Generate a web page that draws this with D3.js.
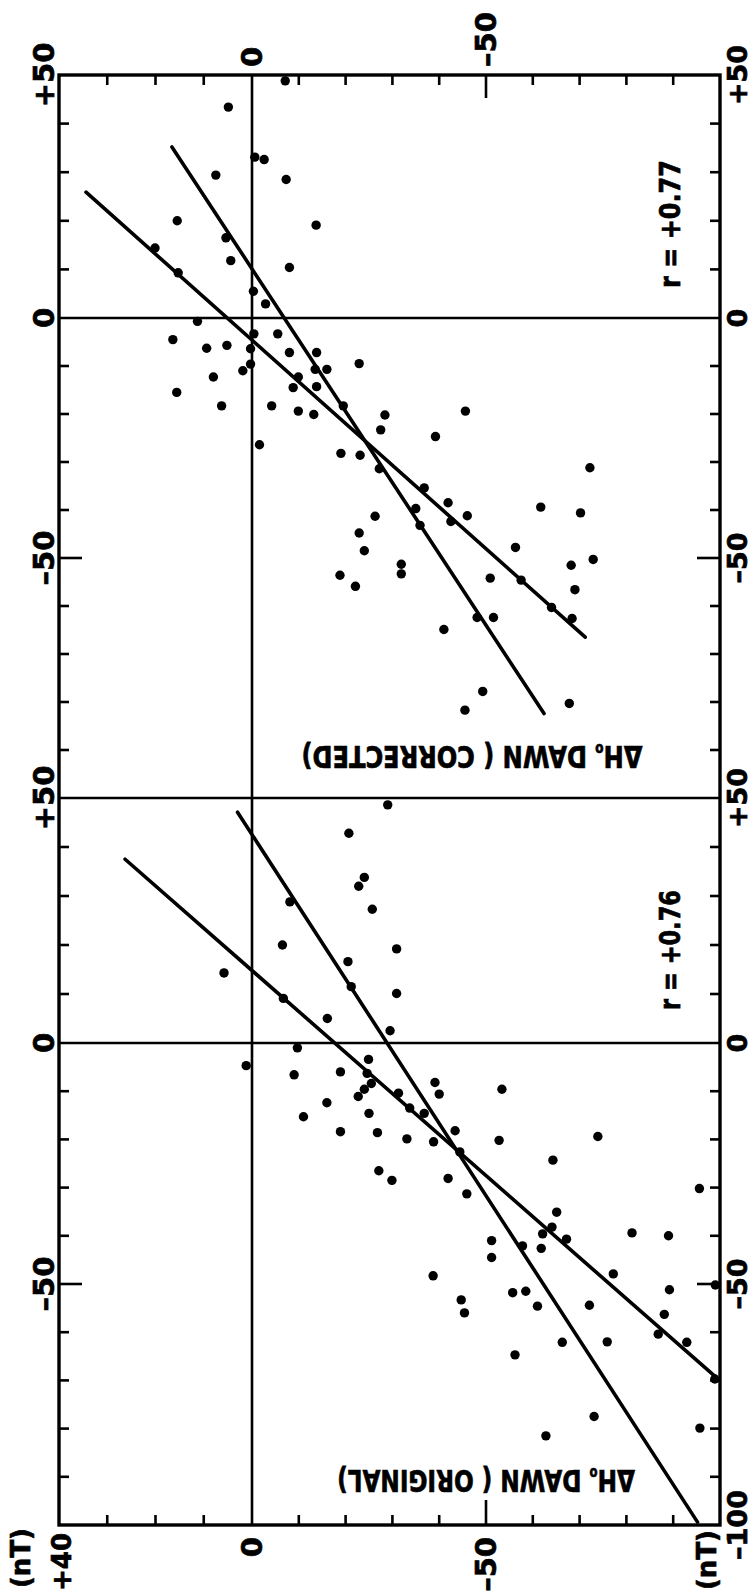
<!DOCTYPE html>
<html>
<head>
<meta charset="utf-8">
<script src="https://cdn.jsdelivr.net/npm/d3@7/dist/d3.min.js"></script>
<style>
  body { margin: 0; background: #fff; }
  text { font-family: "DejaVu Sans", sans-serif; font-weight: bold; fill: #000; stroke: #000; stroke-width: 0.7px; }
</style>
</head>
<body>
<div id="chart"></div>
<script>

// tick values (nT)
var dawnTicks = [30, 20, 10, -10, -20, -30, -40, -50, -60, -70, -80, -90];
var refTicks = [40, 30, 20, 10, -10, -20, -30, -40, -50, -60, -70, -80, -90];
var dawnLabels = [0, -50];
var refLabelsTop = [50, 0, -50];
var refLabelsBottom = [50, 0, -50, -100];

// corrected panel: dawn value (across) and reference value (down)
var corrDawn = [-7.1, 4.9, -0.6, -2.6, 7.5, -7.3, 15.5, -13.7, 5.4, 20.1, 4.4, -8.0, 15.3, -0.3, -2.9,
  11.3, 16.4, -0.4, -5.5, 9.4, 5.2, 0.3, -8.0, -13.8, 0.3, 1.9, -13.5, -16.0, -22.9, 8.0, -9.9, -8.8,
  -13.8, 15.6, 6.3, -4.2, -9.9, -13.2, -19.5, -28.4, -1.6, -27.5, -45.6, -39.2, -19.0, -23.1, -27.2,
  -72.2, -36.8, -41.9, -61.7, -70.2, -35.0, -46.0, -26.3, -42.5, -35.9, -22.9, -24.0, -56.3, -72.9,
  -68.2, -31.9, -31.9, -18.8, -22.1, -50.9, -57.5, -69.0, -64.0, -48.1, -51.6, -68.4, -41.0, -49.3,
  -67.8, -45.5];
var corrRef = [48.8, 43.4, 33.1, 32.6, 29.4, 28.5, 20.0, 19.1, 16.5, 14.4, 11.8, 10.4, 9.3, 5.5, 2.9,
  -0.7, -4.5, -3.3, -3.3, -6.3, -5.7, -6.4, -7.2, -7.2, -9.6, -11.0, -10.7, -10.7, -9.5, -12.3, -12.3,
  -14.5, -14.3, -15.5, -18.3, -18.3, -19.4, -20.1, -18.3, -20.2, -26.4, -23.3, -19.4, -24.7, -28.2,
  -28.6, -31.4, -31.2, -35.4, -38.5, -39.4, -40.6, -39.7, -41.2, -41.3, -42.4, -43.2, -44.8, -48.5,
  -47.8, -50.3, -51.5, -51.3, -53.3, -53.6, -55.9, -54.2, -54.6, -56.6, -60.3, -62.4, -62.4, -62.6,
  -64.9, -77.8, -80.3, -81.7];

// original panel
var origDawn = [-29.0, -20.7, -24.0, -22.8, -8.1, -25.7, -6.5, -30.9, -20.5, 5.8, -21.2, -30.9, -6.7,
  -16.1, -29.5, -9.7, 1.2, -24.9, -9.0, -18.9, -24.6, -25.5, -24.0, -22.7, -31.3, -39.1, -40.0, -53.4,
  -16.0, -33.7, -36.8, -11.0, -25.0, -18.9, -26.8, -43.4, -33.1, -38.8, -52.8, -73.9, -64.3, -44.4,
  -27.1, -29.9, -41.9, -45.9, -95.6, -65.1, -64.1, -62.1, -67.2, -81.2, -89.0, -51.2, -51.2, -57.8,
  -61.8, -38.7, -77.2, -99.0, -89.2, -55.7, -58.5, -44.7, -45.4, -61.0, -72.1, -88.1, -86.8, -92.9,
  -66.3, -75.9, -56.2, -98.9, -73.1, -62.8, -95.7];
var origRef = [48.6, 42.8, 33.8, 32.0, 28.8, 27.3, 20.0, 19.2, 16.6, 14.3, 11.5, 10.1, 9.1, 5.0, 2.5,
  -1.0, -4.7, -3.4, -6.6, -6.0, -6.3, -8.4, -9.6, -11.1, -10.4, -8.2, -10.6, -9.6, -12.4, -13.5, -14.6,
  -15.3, -14.6, -18.4, -18.6, -18.2, -19.9, -20.5, -20.2, -19.4, -24.3, -22.6, -26.5, -28.5, -28.1,
  -31.3, -30.2, -35.1, -38.2, -39.6, -40.7, -39.4, -40.0, -41.0, -44.5, -42.1, -42.6, -48.3, -47.9,
  -50.2, -51.2, -51.8, -51.5, -53.3, -56.0, -54.6, -54.4, -56.3, -60.4, -62.1, -62.1, -62.0, -64.7,
  -69.7, -77.5, -81.5, -79.9];

// regression lines: [dawn1, ref1, dawn2, ref2]
var corrFits = [[16.6, 35.2, -62.4, -82.4], [34.4, 25.9, -71.2, -66.5]];
var origFits = [[3.0, 47.1, -95.2, -99.4], [26.3, 37.5, -99.8, -69.9]];

var W = 752, H = 1594;
var svg = d3.select('#chart').append('svg')
    .attr('width', W).attr('height', H)
    .style('background', '#fff');

// across axis is shared by both panels
var x = d3.scaleLinear().domain([40, 0, -100]).range([59, 252, 720]);
var figTop = 75, figBottom = 1525;

var panels = [
  {dawn: corrDawn, ref: corrRef, fits: corrFits, r: 'r = +0.77', tag: ' DAWN ( CORRECTED)',
   range: [75, 318, 798], right: refLabelsTop, rPos: 224, rLen: 128, tagPos: 757, tagLen: 341, tagX: 472},
  {dawn: origDawn, ref: origRef, fits: origFits, r: 'r = +0.76', tag: ' DAWN ( ORIGINAL)',
   range: [798, 1043, 1525], right: refLabelsBottom, rPos: 950, rLen: 120, tagPos: 1481, tagLen: 298, tagX: 486}
];

function fmt(v) { return v > 0 ? '+' + v : (v < 0 ? '\u2013' + (-v) : '0'); }

function vlabel(sel, px, py, str, anchor, size) {
    return sel.append('text')
        .attr('transform', 'translate(' + px + ',' + py + ')rotate(-90)')
        .attr('text-anchor', anchor)
        .attr('dominant-baseline', 'central')
        .attr('font-size', size || 29)
        .text(str);
}

panels.forEach(function(p) {
    var y = d3.scaleLinear().domain([50, 0, -100]).range(p.range);
    var g = svg.append('g').attr('class', 'panel');

    // zero lines
    g.append('line').attr('x1', x(40)).attr('x2', x(-100)).attr('y1', y(0)).attr('y2', y(0))
        .attr('stroke', '#000').attr('stroke-width', 2.6);
    g.append('line').attr('x1', x(0)).attr('x2', x(0)).attr('y1', y(50)).attr('y2', y(-100))
        .attr('stroke', '#000').attr('stroke-width', 2.6);

    // inward ticks, left and right
    g.selectAll('line.lt').data(refTicks).enter().append('line')
        .attr('x1', x(40)).attr('x2', function(d) { return x(40) + (d == -50 ? 23 : 10); })
        .attr('y1', y).attr('y2', y)
        .attr('stroke', '#000').attr('stroke-width', 2.6);
    g.selectAll('line.rt').data(refTicks).enter().append('line')
        .attr('x1', x(-100)).attr('x2', function(d) { return x(-100) - (d == -50 ? 23 : 10); })
        .attr('y1', y).attr('y2', y)
        .attr('stroke', '#000').attr('stroke-width', 2.6);

    refLabelsTop.forEach(function(v) { vlabel(svg, 44, y(v), fmt(v), 'middle'); });
    p.right.forEach(function(v) { vlabel(svg, 737, y(v), fmt(v), 'middle', 27); });

    // fit lines
    g.selectAll('line.fit').data(p.fits).enter().append('line')
        .attr('x1', function(d) { return x(d[0]); }).attr('y1', function(d) { return y(d[1]); })
        .attr('x2', function(d) { return x(d[2]); }).attr('y2', function(d) { return y(d[3]); })
        .attr('stroke', '#000').attr('stroke-width', 3.6).attr('stroke-linecap', 'round');

    g.selectAll('circle').data(d3.range(p.dawn.length)).enter().append('circle')
        .attr('cx', function(i) { return x(p.dawn[i]); })
        .attr('cy', function(i) { return y(p.ref[i]); })
        .attr('r', 4.7)
        .attr('fill', '#000');

    var rl = vlabel(g, 670, p.rPos, p.r, 'middle', 29);
    var len = rl.node().getComputedTextLength();
    rl.attr('transform', 'translate(670,' + p.rPos + ')rotate(-90)scale(' + (p.rLen / len) + ',1)');

    // axis title, upside down
    var t = g.append('text')
        .attr('text-anchor', 'middle')
        .attr('dominant-baseline', 'central')
        .attr('font-size', 30);
    t.append('tspan').text('\u0394H');
    t.append('tspan').attr('font-size', 15).attr('dy', 7).text('o');
    t.append('tspan').attr('dy', -7).text(p.tag);
    var tl = t.node().getComputedTextLength();
    t.attr('transform', 'translate(' + p.tagX + ',' + p.tagPos + ')rotate(180)scale(' + (p.tagLen / tl) + ',1)');
});

// top and bottom edge ticks
svg.selectAll('line.tt').data(dawnTicks).enter().append('line')
    .attr('x1', x).attr('x2', x)
    .attr('y1', figTop).attr('y2', function(d) { return figTop + (d == -50 ? 23 : 10); })
    .attr('stroke', '#000').attr('stroke-width', 2.6);
svg.selectAll('line.bt').data(dawnTicks).enter().append('line')
    .attr('x1', x).attr('x2', x)
    .attr('y1', figBottom).attr('y2', function(d) { return figBottom - (d == -50 ? 25 : 10); })
    .attr('stroke', '#000').attr('stroke-width', 2.6);

dawnLabels.forEach(function(v) {
    vlabel(svg, x(v), 67, fmt(v), 'start');
    vlabel(svg, x(v), 1537, fmt(v), 'end');
});
vlabel(svg, x(40) + 3, 1533, '+40', 'end', 26);
vlabel(svg, 21, 1528, '(nT)', 'end', 26);
vlabel(svg, 707, 1530, '(nT)', 'end', 26);

// frame and divider
svg.append('rect')
    .attr('x', x(40)).attr('y', figTop)
    .attr('width', x(-100) - x(40)).attr('height', figBottom - figTop)
    .attr('fill', 'none').attr('stroke', '#000').attr('stroke-width', 3.4);
svg.append('line').attr('x1', x(40)).attr('x2', x(-100)).attr('y1', 798).attr('y2', 798)
    .attr('stroke', '#000').attr('stroke-width', 2.6);

</script>
</body>
</html>
